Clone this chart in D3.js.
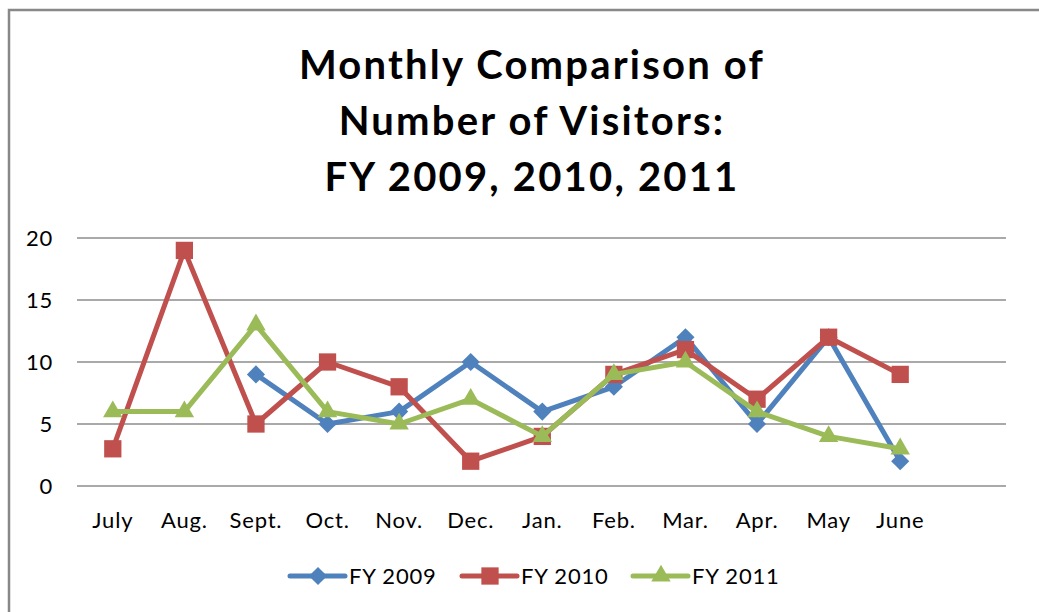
<!DOCTYPE html>
<html>
<head>
  <title>visitors</title>
  <script src="https://d3js.org/d3.v7.min.js"></script>
  <style>
    body { margin: 0; background: #fff; }
    text { font-family: Lato, "Open Sans", sans-serif; fill: #000; }
  </style>
</head>
<body>
  <svg width="1039" height="612" id="mainsvg"></svg>
  <script>
    // data
    const months = ["July", "Aug.", "Sept.", "Oct.", "Nov.", "Dec.", "Jan.", "Feb.", "Mar.", "Apr.", "May", "June"];
    const fy2009 = [null, null, 9, 5, 6, 10, 6, 8, 12, 5, 12, 2];
    const fy2010 = [3, 19, 5, 10, 8, 2, 4, 9, 11, 7, 12, 9];
    const fy2011 = [6, 6, 13, 6, 5, 7, 4, 9, 10, 6, 4, 3];
    const yTicks = [0, 5, 10, 15, 20];
    const titleLines = ["Monthly Comparison of", "Number of Visitors:", "FY 2009, 2010, 2011"];

    const series = [
      { name: "FY 2009", values: fy2009, color: "#4F81BD", symbol: d3.symbolDiamond2, size: 210 },
      { name: "FY 2010", values: fy2010, color: "#C0504D", symbol: d3.symbolSquare2, size: 380 },
      { name: "FY 2011", values: fy2011, color: "#9BBB59", symbol: d3.symbolTriangle2, size: 270 }
    ];

    let svg = d3.select('#mainsvg');

    // outer chart border (only top and left show in the frame)
    svg.append('path')
      .attr('d', 'M9,640 L9,10 L1060,10')
      .attr('fill', 'none')
      .attr('stroke', '#888')
      .attr('stroke-width', 2.5);

    // title
    svg.append('text')
      .attr('text-anchor', 'middle')
      .attr('font-weight', 'bold')
      .attr('font-size', 40)
      .attr('letter-spacing', 2.2)
      .selectAll('tspan').data(titleLines)
      .enter().append('tspan')
      .attr('x', 532)
      .attr('y', (d, i) => 79 + i * 56)
      .text(d => d);

    const plotLeft = 77, plotRight = 1006;
    const x = d3.scaleBand().domain(months).range([77, 936]);
    const y = d3.scaleLinear().domain([0, 20]).range([486, 238]);

    // gridlines
    svg.append('g').selectAll('line').data(yTicks)
      .enter().append('line')
      .attr('x1', plotLeft).attr('x2', plotRight)
      .attr('y1', d => y(d)).attr('y2', d => y(d))
      .attr('stroke', '#8c8c8c')
      .attr('stroke-width', 1.5);

    // y axis labels
    const yAxis = svg.append('g')
      .attr('transform', `translate(${plotLeft - 24},0)`)
      .call(d3.axisLeft(y).tickValues(yTicks).tickSize(0).tickPadding(0));
    yAxis.select('.domain').remove();
    yAxis.selectAll('text')
      .attr('font-family', 'Lato, sans-serif')
      .attr('font-size', 22)
      .attr('letter-spacing', 0.8)
      .attr('fill', '#000');

    // x axis labels
    const xAxis = svg.append('g')
      .attr('transform', 'translate(0,512)')
      .call(d3.axisBottom(x).tickSize(0).tickPadding(0));
    xAxis.select('.domain').remove();
    xAxis.selectAll('text')
      .attr('font-family', 'Lato, sans-serif')
      .attr('font-size', 22)
      .attr('letter-spacing', 0.8)
      .attr('fill', '#000');

    const cx = d => x(d) + x.bandwidth() / 2;

    const line = d3.line()
      .defined(d => d.v !== null)
      .x(d => cx(d.m))
      .y(d => y(d.v));

    series.forEach(s => {
      const pts = months.map((m, i) => ({ m: m, v: s.values[i] }));
      svg.append('path')
        .datum(pts)
        .attr('d', line)
        .attr('fill', 'none')
        .attr('stroke', s.color)
        .attr('stroke-width', 5)
        .attr('stroke-linejoin', 'round');
      svg.append('g').selectAll('path')
        .data(pts.filter(d => d.v !== null))
        .enter().append('path')
        .attr('d', d3.symbol().type(s.symbol).size(s.size))
        .attr('transform', d => `translate(${cx(d.m)},${y(d.v)})`)
        .attr('fill', s.color);
    });

    // legend
    const legendX = [290, 462, 633];
    const leg = svg.append('g').selectAll('g').data(series)
      .enter().append('g')
      .attr('transform', (d, i) => `translate(${legendX[i]},576)`);
    leg.append('line')
      .attr('x1', 0).attr('x2', 55)
      .attr('stroke', d => d.color)
      .attr('stroke-width', 5)
      .attr('stroke-linecap', 'round');
    leg.append('path')
      .attr('d', d => d3.symbol().type(d.symbol).size(d.size)())
      .attr('transform', 'translate(28,0)')
      .attr('fill', d => d.color);
    leg.append('text')
      .attr('x', 59)
      .attr('y', 8)
      .attr('font-size', 22)
      .attr('letter-spacing', 0.8)
      .text(d => d.name);
  </script>
</body>
</html>
